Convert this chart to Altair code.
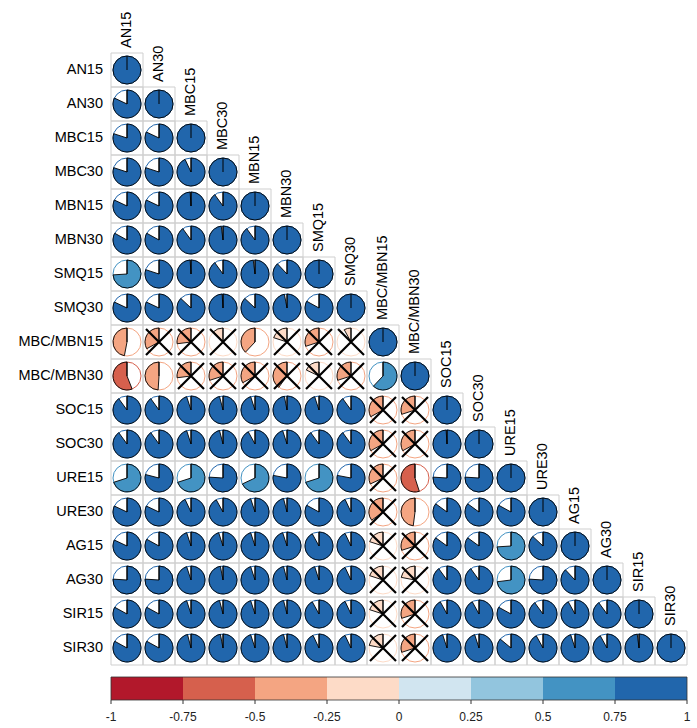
import math

import altair as alt
import pandas as pd

# Variables in matrix order
variables = [
    "AN15", "AN30", "MBC15", "MBC30", "MBN15", "MBN30", "SMQ15", "SMQ30",
    "MBC/MBN15", "MBC/MBN30", "SOC15", "SOC30", "URE15", "URE30",
    "AG15", "AG30", "SIR15", "SIR30",
]

# Lower triangle of the correlation matrix (row i holds columns 0..i-1; diagonal is 1)
lower = [
    [],
    [0.82],
    [0.80, 0.82],
    [0.80, 0.80, 0.93],
    [0.82, 0.82, 0.99, 0.90],
    [0.83, 0.83, 0.90, 0.98, 0.90],
    [0.74, 0.80, 0.99, 0.90, 0.98, 0.88],
    [0.82, 0.82, 0.87, 0.99, 0.87, 0.97, 0.83],
    [-0.47, -0.33, -0.27, -0.12, -0.38, -0.20, -0.30, -0.08],
    [-0.56, -0.49, -0.27, -0.30, -0.33, -0.40, -0.18, -0.30, 0.62],
    [0.90, 0.90, 0.95, 0.96, 0.95, 0.97, 0.95, 0.90, -0.33, -0.30],
    [0.90, 0.90, 0.95, 0.96, 0.92, 0.95, 0.90, 0.90, -0.33, -0.33, 0.99],
    [0.70, 0.79, 0.70, 0.76, 0.68, 0.78, 0.70, 0.78, -0.32, -0.55, 0.76, 0.76],
    [0.82, 0.82, 0.93, 0.92, 0.95, 0.96, 0.83, 0.93, -0.35, -0.48, 0.85, 0.85, 0.83],
    [0.82, 0.83, 0.95, 0.95, 0.95, 0.95, 0.92, 0.93, -0.20, -0.30, 0.85, 0.85, 0.74, 0.87],
    [0.76, 0.76, 0.95, 0.97, 0.95, 0.96, 0.95, 0.93, -0.20, -0.22, 0.90, 0.90, 0.73, 0.76, 0.88],
    [0.83, 0.83, 0.95, 0.96, 0.95, 0.96, 0.92, 0.93, -0.20, -0.30, 0.92, 0.92, 0.83, 0.90, 0.92, 0.90],
    [0.83, 0.83, 0.96, 0.97, 0.95, 0.96, 0.93, 0.93, -0.22, -0.30, 0.95, 0.95, 0.86, 0.92, 0.95, 0.92, 0.98],
]

# Pairs (row, column) whose correlation is not significant -> crossed out
not_significant = [
    ("MBC/MBN15", "AN30"), ("MBC/MBN15", "MBC15"), ("MBC/MBN15", "MBC30"),
    ("MBC/MBN15", "MBN30"), ("MBC/MBN15", "SMQ15"), ("MBC/MBN15", "SMQ30"),
    ("MBC/MBN30", "MBC15"), ("MBC/MBN30", "MBC30"), ("MBC/MBN30", "MBN15"),
    ("MBC/MBN30", "MBN30"), ("MBC/MBN30", "SMQ15"), ("MBC/MBN30", "SMQ30"),
    ("SOC15", "MBC/MBN15"), ("SOC30", "MBC/MBN15"), ("URE15", "MBC/MBN15"),
    ("URE30", "MBC/MBN15"), ("AG15", "MBC/MBN15"), ("AG30", "MBC/MBN15"),
    ("SIR15", "MBC/MBN15"), ("SIR30", "MBC/MBN15"),
    ("SOC15", "MBC/MBN30"), ("SOC30", "MBC/MBN30"), ("AG15", "MBC/MBN30"),
    ("AG30", "MBC/MBN30"), ("SIR15", "MBC/MBN30"), ("SIR30", "MBC/MBN30"),
]

# Colour key: 8 equal bins from -1 to 1
legend_breaks = [-1, -0.75, -0.5, -0.25, 0, 0.25, 0.5, 0.75, 1]
legend_labels = ["-1", "-0.75", "-0.5", "-0.25", "0", "0.25", "0.5", "0.75", "1"]
palette = ["#B2182B", "#D6604D", "#F4A582", "#FDDBC7",
           "#D1E5F0", "#92C5DE", "#4393C3", "#2166AC"]

N = len(variables)
CELL_W, CELL_H = 32, 34
PIE_R = 14
FONT = "Liberation Sans"


def colour_of(r):
    for k in range(len(palette)):
        if r <= legend_breaks[k + 1] + 1e-9:
            return palette[k]
    return palette[-1]


flagged = set(not_significant)
records = []
for i, name in enumerate(variables):
    values = lower[i] + [1.0]
    for j, r in enumerate(values):
        if r >= 0:
            t0, t1 = 0.0, 2 * math.pi * r
        else:
            t0, t1 = 2 * math.pi * (1 + r), 2 * math.pi
        records.append({
            "row": i, "col": j, "row_end": i + 1, "col_end": j + 1,
            "cx": j + 0.5, "cy": i + 0.5, "r": r,
            "colour": colour_of(r), "t0": t0, "t1": t1,
            "crossed": (name, variables[j]) in flagged,
        })
cells = pd.DataFrame(records)
crosses = cells[cells["crossed"]]

labels = pd.DataFrame({
    "name": variables,
    "idx": list(range(N)),
    "mid": [k + 0.5 for k in range(N)],
})

# Colour key segments mapped onto the width of the grid
def key_pos(v):
    return (v - legend_breaks[0]) / (legend_breaks[-1] - legend_breaks[0]) * N

key = pd.DataFrame({
    "x0": [key_pos(v) for v in legend_breaks[:-1]],
    "x1": [key_pos(v) for v in legend_breaks[1:]],
    "colour": palette,
})
key_ticks = pd.DataFrame({
    "pos": [key_pos(v) for v in legend_breaks],
    "label": legend_labels,
})

xs = alt.Scale(domain=[0, N], nice=False, zero=False)
ys = alt.Scale(domain=[0, N], nice=False, zero=False, reverse=True)

base = alt.Chart(cells)

grid = base.mark_rect(fill=None, stroke="#CFCFCF", strokeWidth=1).encode(
    x=alt.X("col:Q", scale=xs, axis=None),
    x2="col_end:Q",
    y=alt.Y("row:Q", scale=ys, axis=None),
    y2="row_end:Q",
)

rims = base.mark_point(shape="circle", size=(2 * PIE_R) ** 2, filled=False,
                       strokeWidth=1, opacity=1).encode(
    x=alt.X("cx:Q", scale=xs, axis=None),
    y=alt.Y("cy:Q", scale=ys, axis=None),
    stroke=alt.Stroke("colour:N", scale=None),
)

pies = base.mark_arc(outerRadius=PIE_R, stroke="black", strokeWidth=0.9).encode(
    x=alt.X("cx:Q", scale=xs, axis=None),
    y=alt.Y("cy:Q", scale=ys, axis=None),
    theta=alt.Theta("t0:Q", scale=None, stack=None),
    theta2="t1:Q",
    fill=alt.Fill("colour:N", scale=None),
)

spokes = base.mark_tick(orient="vertical", size=PIE_R, thickness=1,
                        yOffset=-PIE_R / 2, color="black", opacity=1).encode(
    x=alt.X("cx:Q", scale=xs, axis=None),
    y=alt.Y("cy:Q", scale=ys, axis=None),
)

xmarks = alt.Chart(crosses).mark_point(
    shape="M-1,-1L1,1M-1,1L1,-1", size=26 ** 2, filled=False,
    strokeWidth=2.2, color="black", opacity=1,
).encode(
    x=alt.X("cx:Q", scale=xs, axis=None),
    y=alt.Y("cy:Q", scale=ys, axis=None),
)

row_labels = alt.Chart(labels).mark_text(
    align="right", baseline="middle", dx=-8, font=FONT, fontSize=14.5, color="black",
).encode(
    x=alt.X("datum_zero:Q", scale=xs, axis=None),
    y=alt.Y("mid:Q", scale=ys, axis=None),
    text="name:N",
).transform_calculate(datum_zero="0")

col_labels = alt.Chart(labels).mark_text(
    align="left", baseline="middle", angle=270, dx=5, font=FONT, fontSize=14.5,
    color="black",
).encode(
    x=alt.X("mid:Q", scale=xs, axis=None),
    y=alt.Y("idx:Q", scale=ys, axis=None),
    text="name:N",
)

KEY_TOP, KEY_BOTTOM = 624, 647

key_bar = alt.Chart(key).mark_rect(stroke=None).encode(
    x=alt.X("x0:Q", scale=xs, axis=None),
    x2="x1:Q",
    y=alt.value(KEY_TOP),
    y2=alt.value(KEY_BOTTOM),
    fill=alt.Fill("colour:N", scale=None),
)

key_frame = alt.Chart(key).mark_rect(fill=None, stroke="#333333", strokeWidth=0.8).encode(
    x=alt.X("min(x0):Q", scale=xs, axis=None),
    x2="max(x1):Q",
    y=alt.value(KEY_TOP),
    y2=alt.value(KEY_BOTTOM),
)

key_tick_marks = alt.Chart(key_ticks).mark_rule(color="#333333", strokeWidth=1).encode(
    x=alt.X("pos:Q", scale=xs, axis=None),
    y=alt.value(KEY_BOTTOM),
    y2=alt.value(KEY_BOTTOM + 4),
)

key_tick_labels = alt.Chart(key_ticks).mark_text(
    baseline="middle", align="center", font=FONT, fontSize=12, color="#222222",
).encode(
    x=alt.X("pos:Q", scale=xs, axis=None),
    y=alt.value(664),
    text="label:N",
)

chart = alt.layer(
    grid, rims, pies, spokes, xmarks, row_labels, col_labels,
    key_bar, key_frame, key_tick_marks, key_tick_labels,
).properties(
    width=N * CELL_W,
    height=N * CELL_H,
    padding={"left": 111, "top": 53, "right": 10, "bottom": 63},
    autosize=alt.AutoSizeParams(type="none"),
    background="white",
).configure_view(stroke=None)

chart.save("out.html", embed_options={"renderer": "svg", "actions": False})
